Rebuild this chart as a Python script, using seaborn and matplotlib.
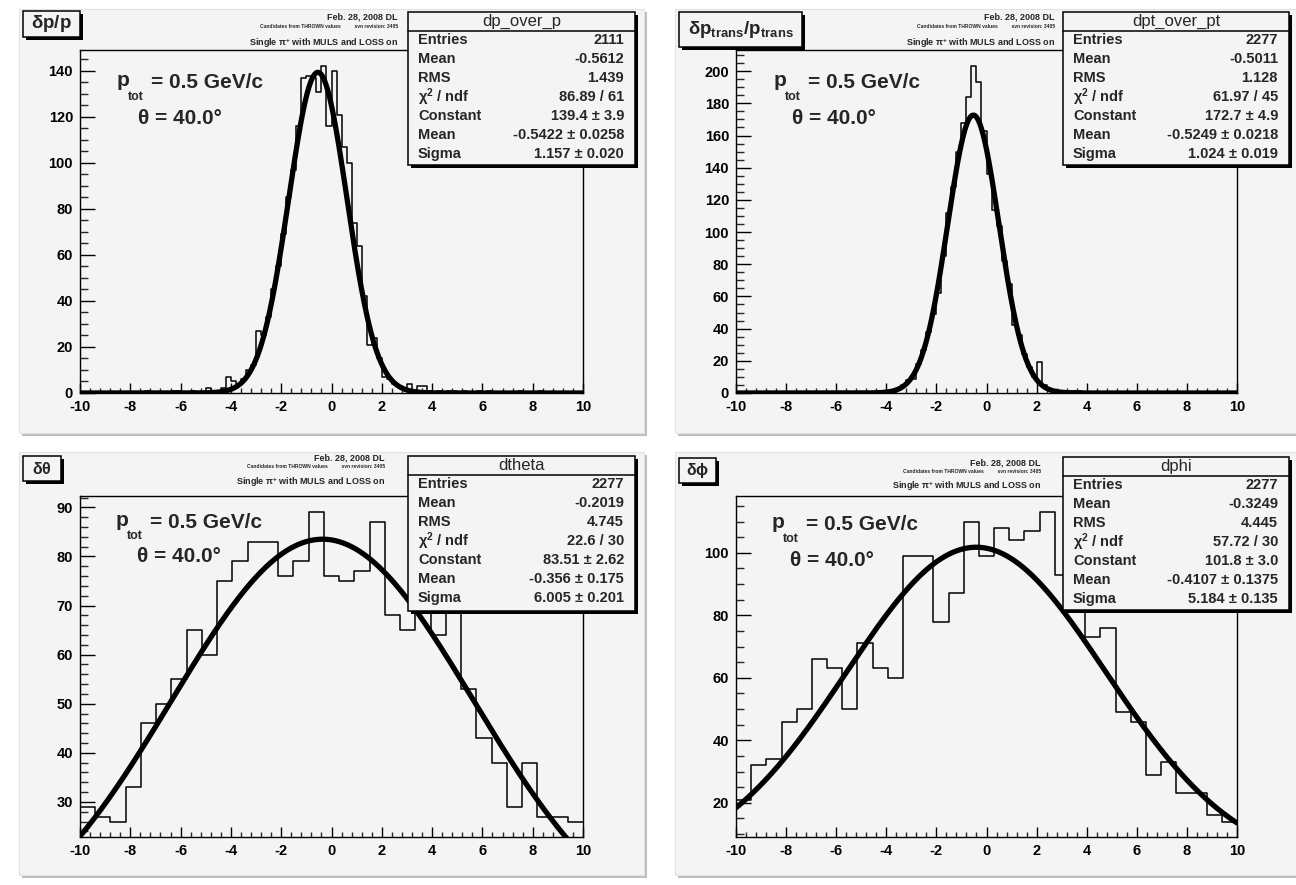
import numpy as np
import matplotlib
matplotlib.use("Agg")
import matplotlib.pyplot as plt
import seaborn as sns
from matplotlib.patches import Rectangle
from matplotlib.lines import Line2D
from matplotlib.ticker import MultipleLocator

# bin contents (100 bins of 0.2 for the top row, 33 bins for the bottom row)
dp_counts = [0, 0, 0, 0, 0, 0, 0, 0, 0, 0,
             0, 0, 0, 1, 0, 0, 0, 0, 1, 1,
             0, 0, 1, 0, 0, 2, 1, 1, 2, 7,
             5, 4, 6, 10, 12, 27, 25, 33, 45, 55,
             69, 85, 97, 116, 137, 138, 137, 131, 142, 116,
             140, 121, 107, 100, 74, 64, 42, 21, 24, 15,
             7, 6, 4, 3, 2, 4, 0, 3, 3, 1,
             0, 1, 0, 1, 1, 0, 1, 0, 0, 1,
             0, 1, 0, 0, 0, 0, 0, 1, 0, 0,
             0, 1, 0, 0, 0, 0, 0, 0, 0, 0]
dpt_counts = [0, 0, 0, 0, 0, 0, 0, 0, 0, 0,
              0, 0, 0, 0, 0, 0, 0, 0, 0, 0,
              0, 0, 0, 0, 0, 0, 0, 0, 0, 0,
              0, 1, 2, 5, 8, 9, 18, 27, 38, 49,
              62, 85, 112, 128, 150, 168, 184, 203, 193, 163,
              136, 114, 104, 82, 68, 42, 36, 24, 16, 10,
              19, 5, 2, 1, 0, 0, 1, 1, 1, 0,
              0, 0, 0, 0, 0, 0, 0, 0, 0, 0,
              0, 0, 0, 0, 0, 0, 0, 0, 0, 0,
              0, 0, 0, 0, 0, 0, 0, 0, 0, 0]
dtheta_counts = [29, 27, 26, 33, 46, 50, 55, 65, 60, 75, 79,
                 83, 83, 76, 79, 89, 76, 75, 77, 87, 68, 65,
                 69, 64, 72, 53, 43, 38, 29, 38, 27, 27, 26]
dphi_counts = [21, 32, 34, 46, 50, 66, 63, 50, 71, 63, 60,
               99, 99, 78, 87, 110, 99, 108, 104, 107, 113, 93,
               88, 73, 76, 49, 46, 29, 33, 23, 23, 16, 14]

hist_names = ['dp_over_p', 'dpt_over_pt', 'dtheta', 'dphi']
pad_titles = [r'$\delta$p/p', r'$\delta$p$_{\rm trans}$/p$_{\rm trans}$', r'$\delta\theta$', r'$\delta\phi$']
n_bins = [100, 100, 33, 33]
entries = ['2111', '2277', '2277', '2277']
means = ['-0.5612', '-0.5011', '-0.2019', '-0.3249']
rms_vals = ['1.439', '1.128', '4.745', '4.445']
chi2_ndf = ['86.89 / 61', '61.97 / 45', '22.6 / 30', '57.72 / 30']
fit_const = [139.4, 172.7, 83.51, 101.8]
fit_const_err = ['3.9', '4.9', '2.62', '3.0']
fit_mean = [-0.5422, -0.5249, -0.356, -0.4107]
fit_mean_err = ['0.0258', '0.0218', '0.175', '0.1375']
fit_sigma = [1.157, 1.024, 6.005, 5.184]
fit_sigma_err = ['0.020', '0.019', '0.201', '0.135']
y_major = [20, 20, 10, 20]
y_minor = [5, 5, 2, 5]

all_counts = [dp_counts, dpt_counts, dtheta_counts, dphi_counts]

# page layout in pixels, measured from the top left corner
W, H = 1296, 885
layout = [
    dict(pad=(19, 9, 644, 433), ax=(80, 50, 583, 393), stat=(408, 12, 635, 165),
         title=(23, 11, 80, 37), hdr=(398, 17, 26, 43), ptot=(117, 83), theta=(138, 118)),
    dict(pad=(675, 9, 1296, 433), ax=(736, 50, 1237, 393), stat=(1063, 12, 1289, 165),
         title=(679, 12, 802, 47), hdr=(1055, 17, 26, 43), ptot=(774, 83), theta=(792, 118)),
    dict(pad=(19, 452, 644, 875), ax=(80, 496, 583, 837), stat=(408, 456, 635, 611),
         title=(23, 456, 61, 481), hdr=(385, 458, 466, 482), ptot=(116, 522), theta=(137, 557)),
    dict(pad=(675, 452, 1296, 875), ax=(736, 496, 1237, 837), stat=(1063, 457, 1289, 610),
         title=(679, 458, 716, 483), hdr=(1041, 463, 471, 486), ptot=(772, 525), theta=(790, 560)),
]

pad_color = '#f4f4f4'

sns.set_style("white")
plt.rcParams['font.family'] = ['Liberation Sans', 'DejaVu Sans']
plt.rcParams['font.weight'] = 'bold'
plt.rcParams['mathtext.fontset'] = 'custom'
plt.rcParams['mathtext.rm'] = 'Liberation Sans:bold'
plt.rcParams['mathtext.it'] = 'Liberation Sans:bold'
plt.rcParams['mathtext.bf'] = 'Liberation Sans:bold'
plt.rcParams['mathtext.default'] = 'rm'
plt.rcParams['axes.unicode_minus'] = False


def fx(x):
    return x / W


def fy(y):
    return 1 - y / H


def rect(fig, x0, y0, x1, y1, **kw):
    r = Rectangle((fx(x0), fy(y1)), (x1 - x0) / W, (y1 - y0) / H,
                  transform=fig.transFigure, **kw)
    fig.add_artist(r)
    return r


def pave(fig, x0, y0, x1, y1, z=5):
    # ROOT style box with a black drop shadow
    rect(fig, x0 + 3, y0 + 3, x1 + 3, y1 + 3, facecolor='black', edgecolor='none', zorder=z)
    rect(fig, x0, y0, x1, y1, facecolor=pad_color, edgecolor='black', lw=1.1, zorder=z + 0.1)


fig = plt.figure(figsize=(W / 100, H / 100), dpi=100)
fig.patch.set_facecolor('white')

for i in range(4):
    lay = layout[i]
    counts = np.array(all_counts[i], dtype=float)
    edges = np.linspace(-10, 10, n_bins[i] + 1)
    centers = 0.5 * (edges[:-1] + edges[1:])

    # pad with shadow
    px0, py0, px1, py1 = lay['pad']
    rect(fig, px0 + 3, py0 + 3, px1 + 3, py1 + 3, facecolor='#bdbdbd', edgecolor='none', zorder=-3)
    rect(fig, px0, py0, px1, py1, facecolor=pad_color, edgecolor='#e2e2e2', lw=0.8, zorder=-2)

    ax0, ay0, ax1, ay1 = lay['ax']
    ax = fig.add_axes([fx(ax0), fy(ay1), (ax1 - ax0) / W, (ay1 - ay0) / H])
    ax.set_facecolor(pad_color)

    sns.histplot(x=centers, weights=counts, bins=edges.tolist(), element='step', fill=False,
                 color='black', linewidth=1.1, ax=ax)

    xs = np.linspace(-10, 10, 500)
    ys = fit_const[i] * np.exp(-0.5 * ((xs - fit_mean[i]) / fit_sigma[i]) ** 2)
    sns.lineplot(x=xs, y=ys, color='black', linewidth=3.8, ax=ax)

    lo, hi = counts.min(), counts.max()
    ymin = lo - 0.05 * (hi - lo)
    if ymin < 0:
        ymin = 0
    ax.set_xlim(-10, 10)
    ax.set_ylim(ymin, hi + 0.05 * (hi - ymin))
    ax.set_xlabel('')
    ax.set_ylabel('')

    ax.xaxis.set_major_locator(MultipleLocator(2))
    ax.xaxis.set_minor_locator(MultipleLocator(0.4))
    ax.yaxis.set_major_locator(MultipleLocator(y_major[i]))
    ax.yaxis.set_minor_locator(MultipleLocator(y_minor[i]))
    ax.tick_params(axis='x', which='major', direction='in', length=7.5, width=1.0,
                   top=False, bottom=True, labelsize=10.5, pad=5, colors='black')
    ax.tick_params(axis='x', which='minor', direction='in', length=3.8, width=1.0,
                   top=False, bottom=True)
    ax.tick_params(axis='y', which='major', direction='in', length=11, width=1.0,
                   right=False, left=True, labelsize=10.5, pad=5, colors='black')
    ax.tick_params(axis='y', which='minor', direction='in', length=5.5, width=1.0,
                   right=False, left=True)
    for lab in ax.get_xticklabels() + ax.get_yticklabels():
        lab.set_fontweight('bold')
    for sp in ax.spines.values():
        sp.set_color('black')
        sp.set_linewidth(1.0)
        sp.set_visible(True)

    # header lines
    hx, h1, h2, h3 = lay['hdr']
    fig.text(fx(hx), fy(h1), 'Feb. 28, 2008 DL', ha='right', va='center', fontsize=6.5)
    fig.text(fx(hx), fy(h2), 'Candidates from THROWN values          svn revision: 3405',
             ha='right', va='center', fontsize=3.6)
    fig.text(fx(hx), fy(h3), r'Single $\pi^{+}$ with MULS and LOSS on', ha='right',
             va='center', fontsize=6.5)

    # kinematics labels, ROOT style low subscript
    kx, ky = lay['ptot']
    fig.text(fx(kx), fy(ky - 2), 'p', ha='left', va='center', fontsize=15)
    fig.text(fx(kx + 11), fy(ky + 14), 'tot', ha='left', va='center', fontsize=9)
    fig.text(fx(kx + 34), fy(ky), '= 0.5 GeV/c', ha='left', va='center', fontsize=15)
    fig.text(fx(lay['theta'][0]), fy(lay['theta'][1]), '\u03b8 = 40.0\u00b0',
             ha='left', va='center', fontsize=15)

    # pad title box
    tx0, ty0, tx1, ty1 = lay['title']
    pave(fig, tx0, ty0, tx1, ty1)
    fig.text(fx((tx0 + tx1) / 2), fy((ty0 + ty1) / 2), pad_titles[i], ha='center',
             va='center', fontsize=13.5 if i < 2 else 11.5, zorder=7)

    # statistics box
    sx0, sy0, sx1, sy1 = lay['stat']
    pave(fig, sx0, sy0, sx1, sy1)
    fig.add_artist(Line2D([fx(sx0), fx(sx1)], [fy(sy0 + 19), fy(sy0 + 19)],
                          transform=fig.transFigure, color='black', lw=1.1, zorder=6))
    fig.text(fx((sx0 + sx1) / 2), fy(sy0 + 9.5), hist_names[i], ha='center', va='center',
             fontsize=12, fontweight='normal', zorder=7)
    rows = [('Entries', entries[i]),
            ('Mean', means[i]),
            ('RMS', rms_vals[i]),
            (r'$\chi^{2}$ / ndf', chi2_ndf[i]),
            ('Constant', f'{fit_const[i]} \u00b1 {fit_const_err[i]}'),
            ('Mean', f'{fit_mean[i]} \u00b1 {fit_mean_err[i]}'),
            ('Sigma', f'{fit_sigma[i]} \u00b1 {fit_sigma_err[i]}')]
    for k, (lab, val) in enumerate(rows):
        yy = sy0 + 28 + 19 * k
        fig.text(fx(sx0 + 10), fy(yy), lab, ha='left', va='center', fontsize=10.5, zorder=7)
        fig.text(fx(sx1 - 11), fy(yy), val, ha='right', va='center', fontsize=10.5, zorder=7)

fig.savefig('out.png', dpi=100, facecolor='white')
